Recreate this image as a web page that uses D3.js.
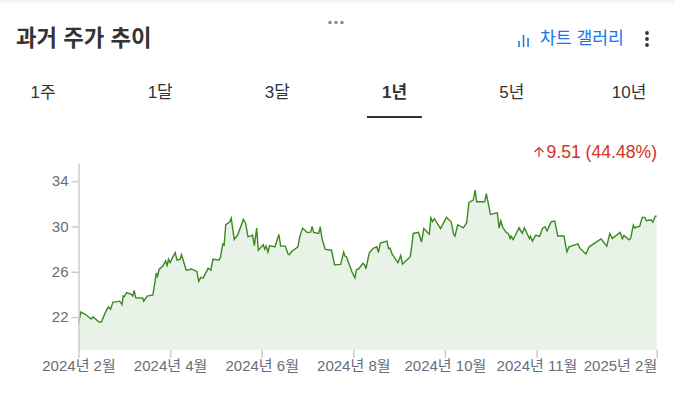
<!DOCTYPE html>
<html>
<head>
<meta charset="utf-8">
<script src="https://cdn.jsdelivr.net/npm/d3@7"></script>
<style>
body { margin:0; background:#fff; }
svg { display:block; }
text { font-family:"Liberation Sans","Noto Sans CJK KR",sans-serif; }
.axis text { font-size:15px; fill:#666e7a; }
.axis line, .axis path { stroke:#ccc; stroke-width:1.5; }
.tab { font-size:17px; fill:#333; text-anchor:middle; }
</style>
</head>
<body>
<svg width="674" height="417"></svg>
<script>
// trading sessions since the start of the window, and closing price
var sessions = [0,1,3,5.5,6.3,9,10,11.5,13,14,15,18,19,19.5,20,21,23,23.7,24.3,25,28,28.5,30,32.5,34,34.5,35.2,37,38,38.7,39.3,40,42.2,43,44.4,45,47,48.6,49.2,51.7,52.5,53.4,54.4,56.6,57.8,58.7,61.4,62,63,63.6,64.3,66,66.7,68,69.5,72,73,74,
  75,76,76.8,77.8,78.5,80.7,81.3,81.9,82.7,83.5,85.8,87.5,88.3,90.3,91.5,92,93,95.8,96.7,97.9,99.9,101.4,102,102.7,104.9,105.6,106.3,107.8,110.5,111.8,114.5,115.8,116.4,117,119.4,120.7,121.4,122.3,124.2,125,125.5,127,128.7,130.3,131,131.8,134.7,135.4,136,137,139.5,140.7,141.5,144.9,146.2,148.5,149.8,150.8,153.2,153.9,154.6,155.4,158.1,160.7,162.8,163.8,164.4,
  165.6,168,169.5,170.5,172.4,173.2,173.9,177.4,178.1,179.9,182.9,183.7,184.4,185.3,186.9,187.7,188.5,188.9,189.8,192.4,193.8,194.7,196.9,197.3,198.2,199.7,201.4,202.6,203.7,204.6,206.4,208,209.3,212,213.3,214.2,218.1,219,221.6,223,228.2,230.7,232,233.1,236.6,237.5,238.2,240.4,241.1,242.3,242.9,245.1,246.2,247.3,248,250,250.8,251.9,252.5];
var closes = [21.44,22.44,22.24,21.82,22.03,21.56,21.56,22.3,22.9,22.7,23.3,23.4,23.1,23.85,23.8,24.15,24.0,23.85,24.35,23.7,23.68,23.4,23.85,23.95,25.9,25.6,26.2,26.55,26.97,26.55,27.1,26.8,27.7,27.03,27.1,27.5,26.15,26.18,26.26,26.03,25.15,25.5,25.44,26.3,26.15,27.1,27.03,27.3,28.44,28.35,30.15,30.38,30.73,28.85,29.24,30.62,30.26,29.1,
  29.15,29.24,28.3,29.85,27.9,28.4,28.0,28.26,27.74,28.3,28.2,29.3,28.26,28.26,27.56,27.5,27.76,28.2,29.15,29.85,29.47,29.5,30.0,29.47,29.38,29.97,28.94,27.97,27.9,26.62,26.65,27.74,27.38,27.32,26.0,25.47,26.2,26.24,26.74,26.6,26.26,27.68,28.06,28.2,27.7,28.53,28.7,28.03,28.1,27.56,26.8,27.44,26.68,27.32,29.38,29.47,28.62,29.82,29.32,30.76,30.44,30.68,29.8,30.8,30.38,29.32,29.15,
  30.15,29.88,30.3,32.12,32.32,33.2,32.18,32.18,32.9,31.06,31.2,29.85,30.5,29.9,29.44,29.38,28.94,29.15,28.85,29.88,29.38,29.88,28.94,29.15,28.7,29.24,29.12,29.82,29.97,29.6,30.4,30.47,29.15,29.15,27.76,28.2,28.47,28.06,27.56,28.2,28.9,28.26,29.38,28.94,29.47,28.9,29.2,28.82,28.94,30.12,29.88,30.03,30.8,30.8,30.5,30.59,30.38,30.91,30.91];

var yTicks = [22,26,30,34];
var xTickSessions = [0,40,80,120,160,200,252.5];
var xTickLabels = ["2024년 2월","2024년 4월","2024년 6월","2024년 8월","2024년 10월","2024년 11월","2025년 2월"];
var tabs = ["1주","1달","3달","1년","5년","10년"];
var activeTab = "1년";

var svg = d3.select("svg");
var x = d3.scaleLinear().domain([0,252.5]).range([78.5,656.7]);
var y = d3.scaleLinear().domain([19.09,35.6]).range([350,163]);
var pts = sessions.map((s,i)=>[s,closes[i]]);

// page furniture
svg.append("rect").attr("width",674).attr("height",3).attr("fill","#f5f5f5");
svg.selectAll(".grip").data([330,336,342]).enter().append("circle")
  .attr("cx",d=>d).attr("cy",22.5).attr("r",1.7).attr("fill","#888");
svg.append("text").attr("x",16).attr("y",46).text("과거 주가 추이")
  .style("font-size","22.3px").style("font-weight","bold").attr("fill","#333");
svg.append("text").attr("x",540).attr("y",44).text("차트 갤러리")
  .style("font-size","17.2px").attr("fill","#1a73e8");
svg.selectAll(".icon").data([[519,41,6],[523.5,35,12],[528,38,9]]).enter().append("rect")
  .attr("x",d=>d[0]-.7).attr("y",d=>d[1]).attr("width",1.5).attr("height",d=>d[2]).attr("fill","#1a73e8");
svg.selectAll(".kebab").data([33,39,45]).enter().append("circle")
  .attr("cx",647).attr("cy",d=>d).attr("r",1.9).attr("fill","#333");

var tabX = d3.scalePoint().domain(tabs).range([43,629]);
svg.selectAll(".tab").data(tabs).enter().append("text").attr("class","tab")
  .attr("x",d=>tabX(d)).attr("y",98).text(d=>d)
  .style("font-weight",d=>d==activeTab?"bold":"normal");
svg.append("rect").attr("x",367).attr("y",116).attr("width",55).attr("height",2).attr("fill","#333");

svg.append("path").attr("d","M539 157V147.5M534.5 152L539 147.5L543.5 152")
  .attr("fill","none").attr("stroke","#d93025").attr("stroke-width",1.2);
svg.append("text").attr("x",657).attr("y",158).attr("text-anchor","end")
  .text("9.51 (44.48%)").style("font-size","17.6px").attr("fill","#d93025");

// chart
var area = d3.area().x(d=>x(d[0])).y0(y.range()[0]).y1(d=>y(d[1]));
var line = d3.line().x(d=>x(d[0])).y(d=>y(d[1]));
svg.append("path").datum(pts).attr("d",area).attr("fill","#e8f2e7");
svg.append("path").datum(pts).attr("d",line).attr("fill","none").attr("stroke","#3a8a20").attr("stroke-width",1.4);

var gy = svg.append("g").attr("class","axis").attr("transform","translate(78.5,0)")
  .call(d3.axisLeft(y).tickValues(yTicks).tickSize(7).tickSizeOuter(0).tickPadding(3));

var gx = svg.append("g").attr("class","axis").attr("transform","translate(0,350)")
  .call(d3.axisBottom(x).tickValues(xTickSessions).tickFormat((d,i)=>xTickLabels[i]).tickSize(8).tickPadding(2));
gx.select(".domain").remove();
gx.selectAll("text").filter((d,i)=>i==xTickLabels.length-1).attr("text-anchor","end");
</script>
</body>
</html>
